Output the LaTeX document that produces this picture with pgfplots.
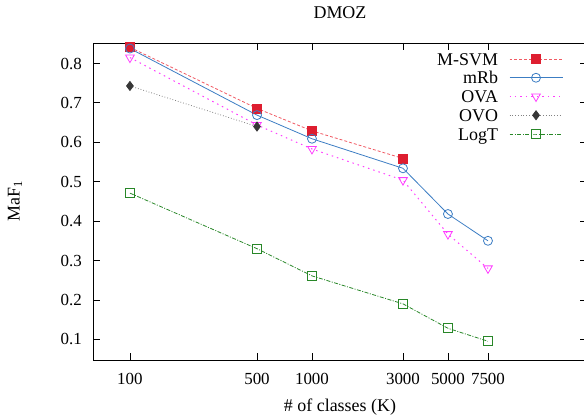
\documentclass[border=0pt]{standalone}
\usepackage{fontspec}
\setmainfont{Liberation Serif}
\usepackage{pgfplots}
\pgfplotsset{compat=1.18}

\definecolor{msvm}{RGB}{222,30,48}
\definecolor{msvmline}{RGB}{240,90,100}
\definecolor{mrb}{RGB}{60,125,195}
\definecolor{ova}{RGB}{255,60,255}
\definecolor{ovo}{RGB}{55,55,55}
\definecolor{ovoline}{RGB}{130,130,130}
\definecolor{logt}{RGB}{40,135,40}

% x positions (log-like spacing as in the original figure)
% 100 500 1000 3000 5000 7500
\begin{document}
\begin{tikzpicture}
\useasboundingbox (0,0) rectangle (584bp,417bp);
\begin{axis}[
  at={(93bp,57bp)}, anchor=south west,
  scale only axis,
  width=494bp, height=317bp,
  xmin=1.797, xmax=4.511,
  ymin=0.0475, ymax=0.852,
  xtick={2,2.698,3,3.5,3.747,3.967},
  xticklabels={100,500,1000,3000,5000,7500},
  ytick={0.1,0.2,0.3,0.4,0.5,0.6,0.7,0.8},
  yticklabel style={/pgf/number format/fixed,/pgf/number format/precision=1},
  /pgf/number format/assume math mode=true,
  tick align=inside,
  major tick length=7bp,
  tick style={black, line width=0.8pt},
  axis line style={line width=1pt},
  ticklabel style={font=\fontsize{17}{17}\selectfont, inner sep=0pt},
  xticklabel style={anchor=north, yshift=-13bp},
  yticklabel style={anchor=east, xshift=-11bp},
  title={\fontsize{18}{18}\selectfont DMOZ},
  title style={at={(0.5,1)}, anchor=center, yshift=24bp},
  xlabel={\# of classes (K)},
  xlabel style={font=\fontsize{18}{18}\selectfont, at={(axis description cs:0.5,0)}, anchor=center, yshift=-47.5bp},
  ylabel={MaF\textsubscript{1}},
  ylabel style={font=\fontsize{18}{18}\selectfont, at={(axis description cs:0,0.5)}, anchor=center, yshift=78bp},
  legend plot pos=right,
  legend cell align=right,
  legend style={draw=none, fill=none, at={(1,1)}, anchor=north east,
    xshift=-24bp, yshift=-10bp, inner sep=0pt, outer sep=0pt,
    font=\fontsize{18}{18}\selectfont, column sep=11bp, row sep=6.75bp,
    nodes={inner sep=0pt, text height=12bp, text depth=0bp}},
  legend image code/.code={\draw[mark repeat=2,mark phase=2] plot coordinates {(0bp,0bp) (26.5bp,0bp) (53bp,0bp)};},
]
\addplot[color=msvmline, densely dashed, line width=0.8pt, mark=square*, mark size=4.5bp,
  mark options={solid, fill=msvm, draw=msvm}]
  coordinates {(2,0.841) (2.698,0.686) (3,0.629) (3.5,0.559)};
\addlegendentry{M-SVM}
\addplot[color=mrb, solid, line width=0.8pt, mark=o, mark size=4.5bp, mark options={solid, line width=0.8pt}]
  coordinates {(2,0.838) (2.698,0.669) (3,0.609) (3.5,0.534) (3.747,0.418) (3.967,0.350)};
\addlegendentry{mRb}
\addplot[color=ova, dash pattern=on 1.5pt off 4pt, line width=1pt, mark=triangle, mark size=5bp,
  mark options={solid, rotate=180, line width=0.8pt}]
  coordinates {(2,0.815) (2.698,0.644) (3,0.583) (3.5,0.504) (3.747,0.367) (3.967,0.280)};
\addlegendentry{OVA}
\addplot[color=ovoline, dotted, line width=0.8pt, mark=diamond*, mark size=4.5bp,
  mark options={solid, fill=ovo, draw=ovo}]
  coordinates {(2,0.743) (2.698,0.640)};
\addlegendentry{OVO}
\addplot[color=logt, dash pattern=on 4pt off 1.5pt on 1pt off 1.5pt, line width=0.8pt, mark=square, mark size=4.5bp,
  mark options={solid, line width=0.8pt}]
  coordinates {(2,0.471) (2.698,0.330) (3,0.261) (3.5,0.190) (3.747,0.128) (3.967,0.095)};
\addlegendentry{LogT}
\end{axis}
\end{tikzpicture}
\end{document}
